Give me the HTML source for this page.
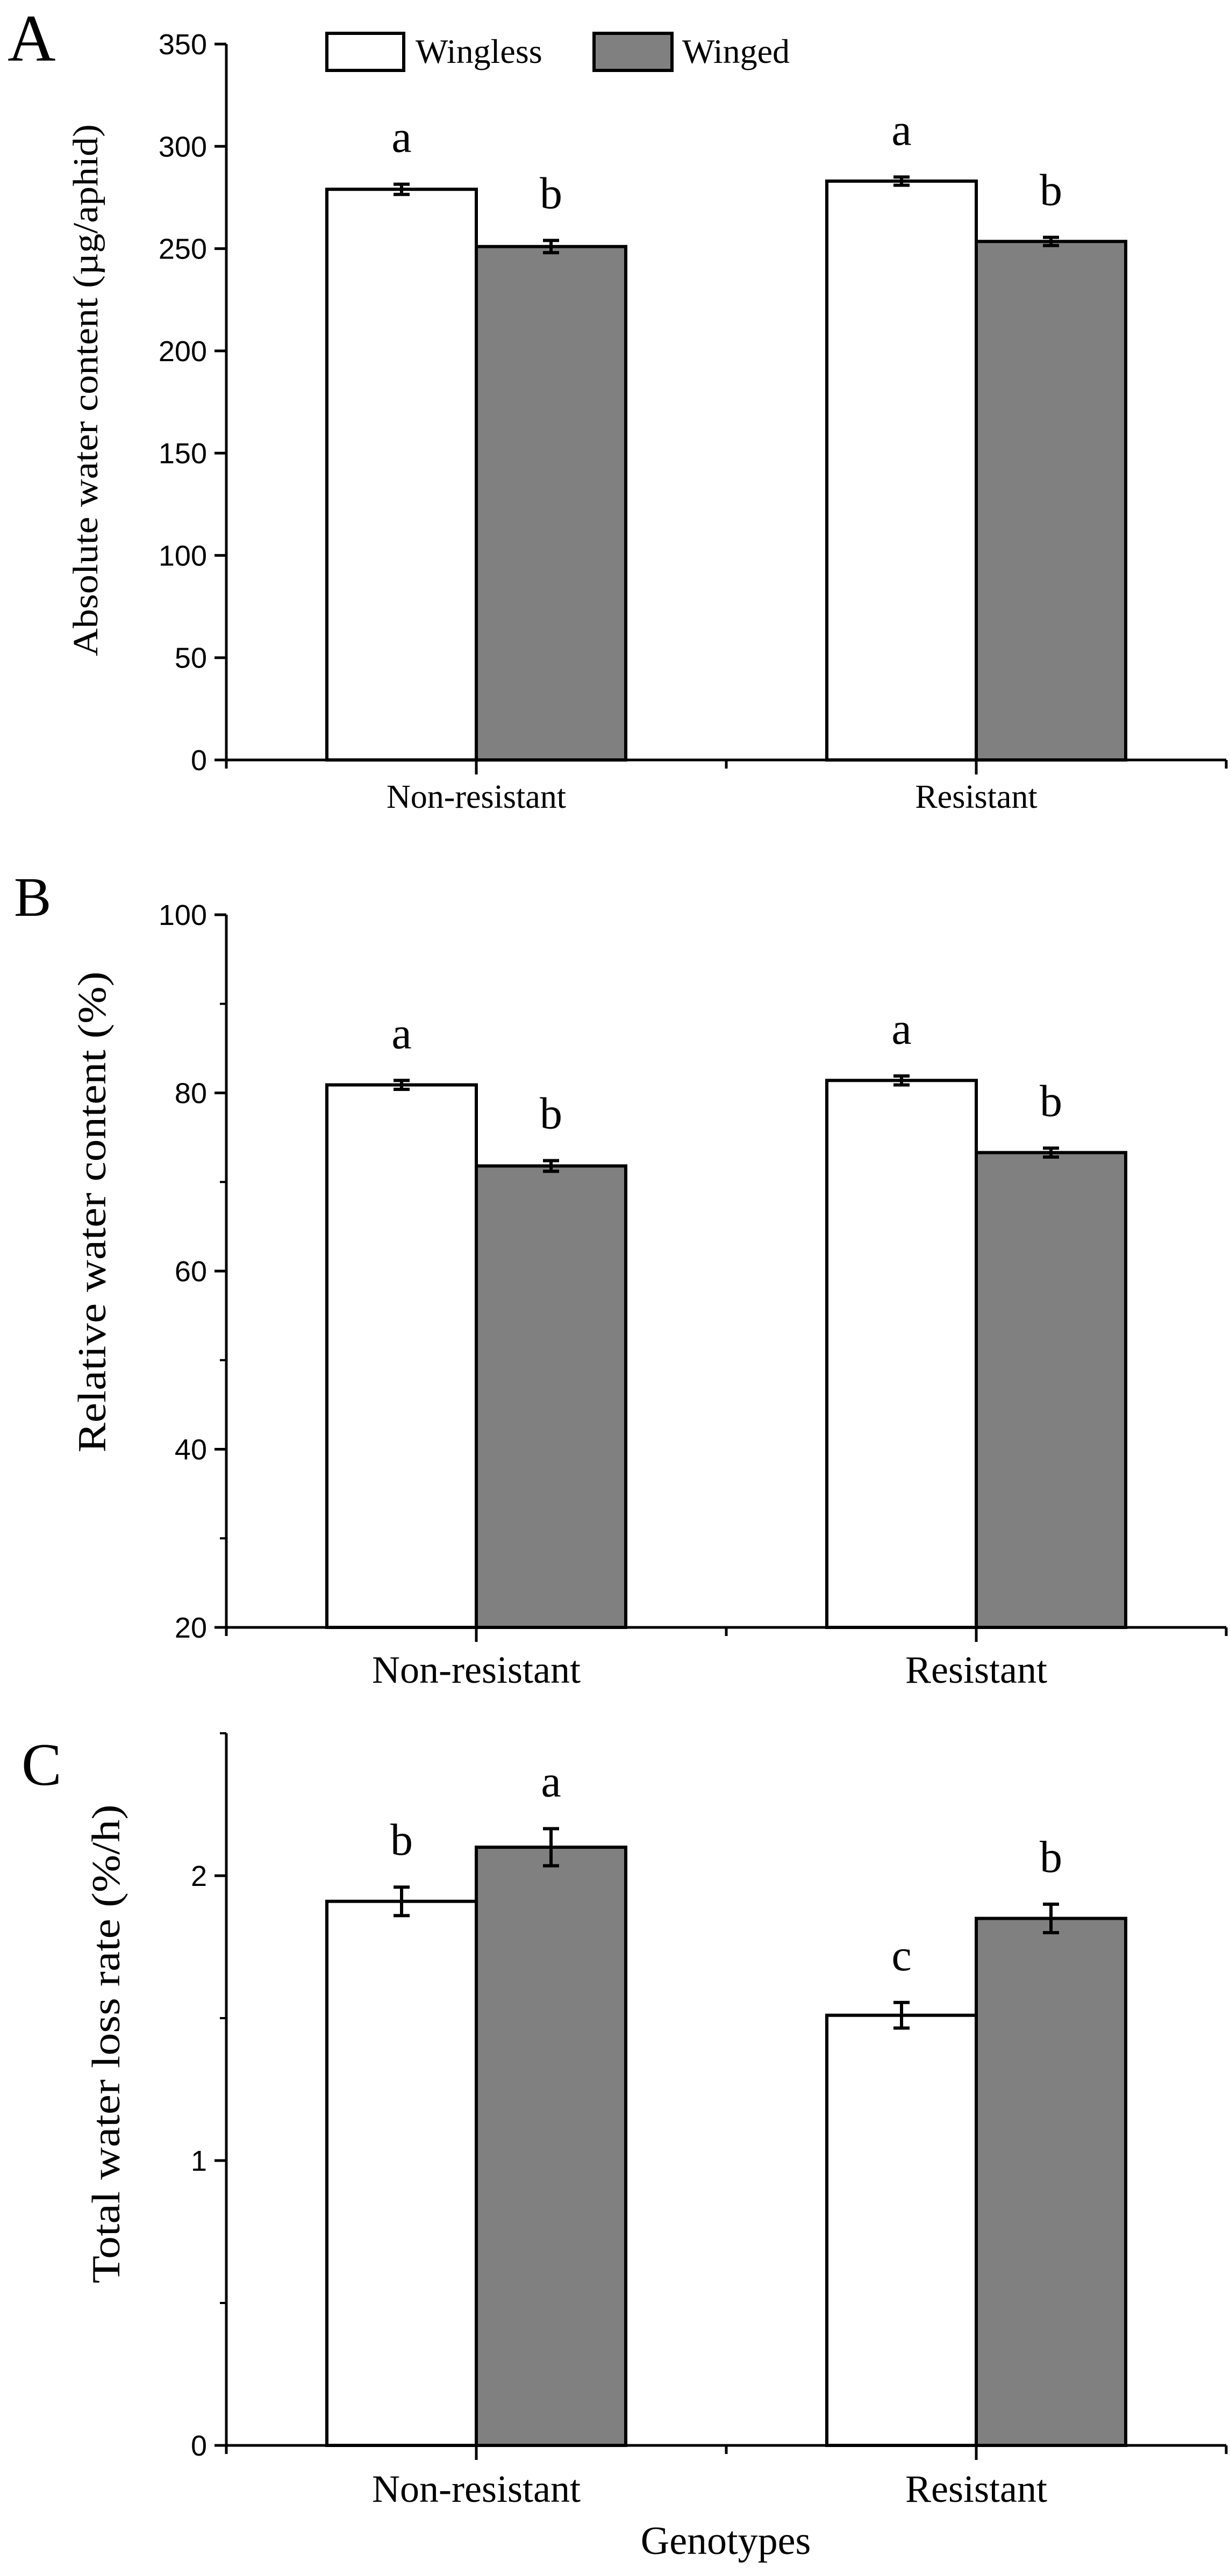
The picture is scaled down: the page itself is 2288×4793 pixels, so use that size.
<!DOCTYPE html>
<html><head><meta charset="utf-8">
<style>
html,body{margin:0;padding:0;background:#fff;}
svg{display:block;}
.ser{font-family:"Liberation Serif",serif;fill:#000;}
.tick{font-family:"Liberation Sans Narrow","Liberation Sans",sans-serif;fill:#000;}
</style></head>
<body>
<svg id="chart" width="2288" height="4793" viewBox="0 0 2288 4793" xmlns="http://www.w3.org/2000/svg">
<rect width="2288" height="4793" fill="#fff"/>
<g>
  <rect x="608" y="62" width="143" height="69" fill="#fff" stroke="#000" stroke-width="6"/>
  <text class="ser" x="773" y="117" font-size="64">Wingless</text>
  <rect x="1105" y="62" width="145" height="69" fill="#808080" stroke="#000" stroke-width="6"/>
  <text class="ser" x="1269" y="117" font-size="64">Winged</text>
</g>
</svg>
<script>
const categories = ["Non-resistant", "Resistant"];
const seriesNames = ["Wingless", "Winged"];
// Panel A: absolute water content (µg/aphid)
const aWingless = [279, 283];
const aWinged = [251, 253.5];
const aWinglessErr = [2.5, 2];
const aWingedErr = [3, 2];
const aLetters = [["a","b"],["a","b"]];
const aTicks = [0, 50, 100, 150, 200, 250, 300, 350];
// Panel B: relative water content (%)
const bWingless = [80.9, 81.4];
const bWinged = [71.8, 73.3];
const bWinglessErr = [0.5, 0.5];
const bWingedErr = [0.6, 0.5];
const bLetters = [["a","b"],["a","b"]];
const bTicks = [20, 40, 60, 80, 100];
const bMinor = [30, 50, 70, 90];
// Panel C: total water loss rate (%/h)
const cWingless = [1.91, 1.51];
const cWinged = [2.10, 1.85];
const cWinglessErr = [0.05, 0.045];
const cWingedErr = [0.065, 0.05];
const cLetters = [["b","a"],["c","b"]];
const cTicks = [0, 1, 2];
const cMinor = [0.5, 1.5, 2.5];

const NS = "http://www.w3.org/2000/svg";
const svg = document.getElementById("chart");
function mk(tag, attrs, parent){
  const e = document.createElementNS(NS, tag);
  for (const k in attrs) e.setAttribute(k, attrs[k]);
  (parent||svg).appendChild(e);
  return e;
}
const X0 = 421, X1 = 2281;
const groupCenters = [886, 1816];
const barW = 278;

function panel(cfg){
  const g = mk("g", {});
  
  
  const y = v => cfg.yBot - (v - cfg.vMin) / (cfg.vMax - cfg.vMin) * (cfg.yBot - cfg.yTop);
  // bars
  const series = [[cfg.wl, cfg.wlE, "#ffffff"], [cfg.wg, cfg.wgE, "#808080"]];
  for (let c = 0; c < categories.length; c++){
    for (let s = 0; s < 2; s++){
      const vals = series[s][0], errs = series[s][1];
      const xL = groupCenters[c] + (s === 0 ? -barW : 0);
      const yT = y(vals[c]);
      const r = mk("rect", {x: xL, y: yT, width: barW, height: cfg.yBot - yT, fill: series[s][2], stroke: "#000", "stroke-width": 6}, g);
      
      
      const cx = xL + barW / 2;
      const yh = y(vals[c] + errs[c]), yl = y(vals[c] - errs[c]);
      const eb = mk("path", {d: `M${cx},${yh}V${yl}M${cx-15},${yh}H${cx+15}M${cx-15},${yl}H${cx+15}`, stroke: "#000", "stroke-width": 6, fill: "none"}, g);
      
      
      const lt = mk("text", {x: cx, y: yh - cfg.letterGap, "text-anchor": "middle", "font-size": 84, class: "ser"}, g);
      lt.textContent = cfg.letters[c][s];
      
      
    }
  }
  // axes
  const ax = mk("path", {d: `M${X0},${cfg.yTop}V${cfg.yBot}M${X0-3},${cfg.yBot}H${X1}`, stroke: "#000", "stroke-width": 5, fill: "none"}, g);
  
  
  // x ticks
  const xt = [X0, groupCenters[0], (groupCenters[0]+groupCenters[1])/2, groupCenters[1], X1];
  xt.forEach((xx, i) => {
    const len = (i === 1 || i === 3) ? 27 : 16;
    const t = mk("line", {x1: xx, x2: xx, y1: cfg.yBot, y2: cfg.yBot + len, stroke: "#000", "stroke-width": 5}, g);
    
    
  });
  categories.forEach((cat, i) => {
    const t = mk("text", {x: groupCenters[i], y: cfg.catY, "text-anchor": "middle", "font-size": cfg.catFont, class: "ser"}, g);
    t.textContent = cat;
    
    
  });
  // y ticks
  cfg.ticks.forEach(v => {
    const yy = y(v);
    const t = mk("line", {x1: X0 - 22, x2: X0, y1: yy, y2: yy, stroke: "#000", "stroke-width": 5}, g);
    
    
    const l = mk("text", {x: X0 - 36, y: yy + 19, "text-anchor": "end", "font-size": 54, class: "tick"}, g);
    l.textContent = String(v);
    
    
  });
  (cfg.minor || []).forEach(v => {
    const yy = y(v);
    const t = mk("line", {x1: X0 - 12, x2: X0, y1: yy, y2: yy, stroke: "#000", "stroke-width": 4}, g);
    
    
  });
  // y title
  const yt = mk("text", {x: 0, y: 0, "text-anchor": "middle", "font-size": cfg.titleFont, class: "ser",
    transform: `translate(${cfg.titleX},${cfg.titleY}) rotate(-90)`, textLength: cfg.titleLen, lengthAdjust: "spacingAndGlyphs"}, g);
  yt.textContent = cfg.title;
  
  
  // panel letter
  const pl = mk("text", {x: cfg.plX, y: cfg.plY, "font-size": cfg.plFont, class: "ser"}, g);
  pl.textContent = cfg.label;
  
  
}

panel({id: "panel-a", key: "a", label: "A", plX: 14, plY: 113, plFont: 124,
  yTop: 82, yBot: 1414, vMin: 0, vMax: 350, ticks: aTicks,
  wl: aWingless, wg: aWinged, wlE: aWinglessErr, wgE: aWingedErr, letters: aLetters, letterGap: 60,
  catY: 1503, catFont: 62, title: "Absolute water content (\u00b5g/aphid)", titleX: 181, titleY: 726, titleLen: 990, titleFont: 66});
panel({id: "panel-b", key: "b", label: "B", plX: 26, plY: 1704, plFont: 104,
  yTop: 1702, yBot: 3028, vMin: 20, vMax: 100, ticks: bTicks, minor: bMinor,
  wl: bWingless, wg: bWinged, wlE: bWinglessErr, wgE: bWingedErr, letters: bLetters, letterGap: 60,
  catY: 3131, catFont: 72, title: "Relative water content (%)", titleX: 196, titleY: 2255, titleLen: 895, titleFont: 74});
panel({id: "panel-c", key: "c", label: "C", plX: 40, plY: 3321, plFont: 112,
  yTop: 3225, yBot: 4550, vMin: 0, vMax: 2.5, ticks: cTicks, minor: cMinor,
  wl: cWingless, wg: cWinged, wlE: cWinglessErr, wgE: cWingedErr, letters: cLetters, letterGap: 60,
  catY: 4655, catFont: 72, title: "Total water loss rate (%/h)", titleX: 222, titleY: 3803, titleLen: 891, titleFont: 74});

const gx = mk("text", {x: 1350, y: 4752, "text-anchor": "middle", "font-size": 74, class: "ser"});
gx.textContent = "Genotypes";


</script>
</body></html>
